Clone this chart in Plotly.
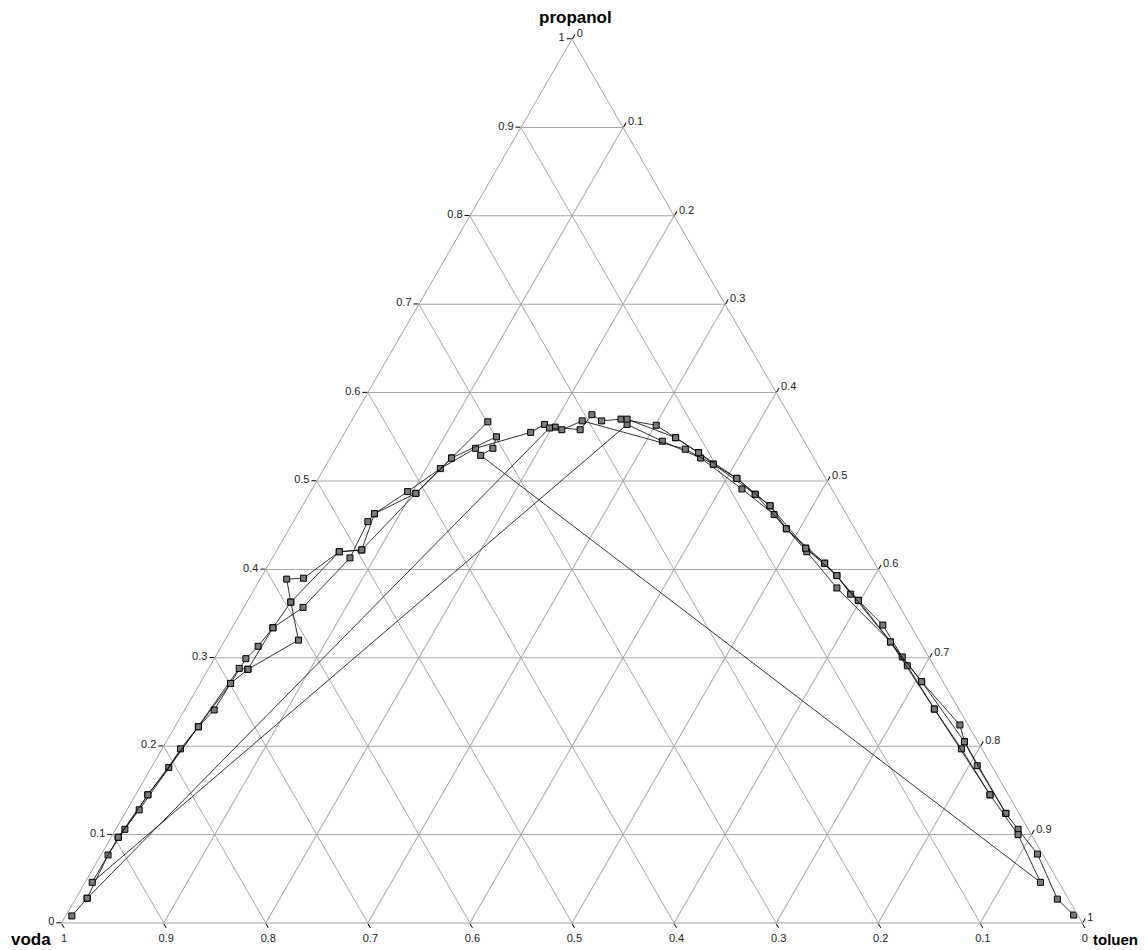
import plotly.graph_objects as go

# Ternary compositions (mass fractions): propanol, toluen; voda = rest
s1_propanol = [.008, .028, .077, .106, .145, .176, .197, .222, .241, .271, .299, .313, .334, .357, .413,
               .454, .463, .488, .514, .537, .555, .564, .561, .558, .575, .568, .570, .563, .549, .532,
               .519, .503, .485, .472, .446, .424, .407, .393, .372, .365, .337, .301, .273, .224, .205,
               .178, .124, .106, .078, .027, .009]
s1_toluen = [.006, .011, .007, .009, .012, .017, .018, .023, .029, .030, .031, .036, .040, .058, .076,
             .073, .075, .095, .114, .137, .182, .191, .203, .229, .232, .245, .263, .301, .327, .358,
             .379, .410, .437, .458, .487, .517, .544, .563, .587, .598, .636, .673, .706, .768, .782,
             .808, .863, .884, .917, .962, .987]

s2_propanol = [.145, .197, .242, .291, .318, .379, .420, .462, .491, .526, .545, .564, .046, .097, .128,
               .288, .287, .320, .363, .389, .390, .420, .422, .486, .526, .567]
s2_toluen = [.837, .783, .734, .683, .653, .570, .520, .467, .421, .363, .316, .272, .007, .007, .012,
             .030, .039, .072, .043, .026, .042, .062, .083, .104, .119, .134]

s3_propanol = [.124, .205, .273, .365, .407, .446, .485, .519, .536, .568, .558, .560, .028]
s3_toluen = [.863, .782, .706, .598, .544, .487, .437, .379, .343, .226, .211, .198, .011]

s4_propanol = [.097, .145, .222, .271, .287, .334, .363, .420, .422, .463, .486, .526, .550, .537, .529,
               .046, .100, .145, .242, .318, .393, .424, .472, .503, .532, .549, .570]
s4_toluen = [.007, .012, .023, .030, .039, .040, .043, .062, .083, .075, .104, .119, .151, .154, .146,
             .936, .887, .837, .734, .653, .563, .517, .458, .410, .358, .327, .269]

series = [(s1_propanol, s1_toluen), (s2_propanol, s2_toluen),
          (s3_propanol, s3_toluen), (s4_propanol, s4_toluen)]

axis_titles = ["propanol", "voda", "toluen"]

FONT = "Arial, Liberation Sans, sans-serif"
W, H = 1147, 950
ML, MR, MT, MB = 53, 72, 31, 35
PW, PH = W - ML - MR, H - MT - MB

fig = go.Figure()
for prop, tol in series:
    voda = [round(1 - p - t, 3) for p, t in zip(prop, tol)]
    fig.add_trace(go.Scatterternary(
        a=prop, b=voda, c=tol,
        mode="lines+markers",
        line=dict(color="black", width=0.8),
        marker=dict(symbol="square", size=6, color="#7a7a7a",
                    line=dict(color="black", width=1)),
        showlegend=False,
        hoverinfo="skip",
    ))

def axis():
    return dict(
        title=dict(text=""),
        min=0, tick0=0, dtick=0.1,
        ticks="outside", ticklen=5, tickcolor="black", tickwidth=1,
        tickfont=dict(family=FONT, size=11, color="#222"),
        showgrid=True, gridcolor="#a8a8a8", gridwidth=1,
        linecolor="#a0a0a0", linewidth=1,
        showline=True,
    )

def px_to_paper(px, py):
    return (px - ML) / PW, 1 - (py - MT) / PH

# positions in figure pixels (page is offset by the body margin)
title_pos = [(567, 9), (23, 932), (1107, 932)]
title_size = [17, 17, 15]
annotations = []
for text, (px, py), fs in zip(axis_titles, title_pos, title_size):
    x, y = px_to_paper(px, py)
    annotations.append(dict(
        text="<b>%s</b>" % text, x=x, y=y, xref="paper", yref="paper",
        xanchor="center", yanchor="middle", showarrow=False,
        font=dict(family=FONT, size=fs, color="black"),
    ))

fig.update_layout(
    width=W, height=H,
    paper_bgcolor="white",
    margin=dict(l=ML, r=MR, t=MT, b=MB),
    ternary=dict(
        sum=1,
        bgcolor="white",
        aaxis=axis(),
        baxis=axis(),
        caxis=axis(),
    ),
    annotations=annotations,
)

fig.write_html("out.html")
